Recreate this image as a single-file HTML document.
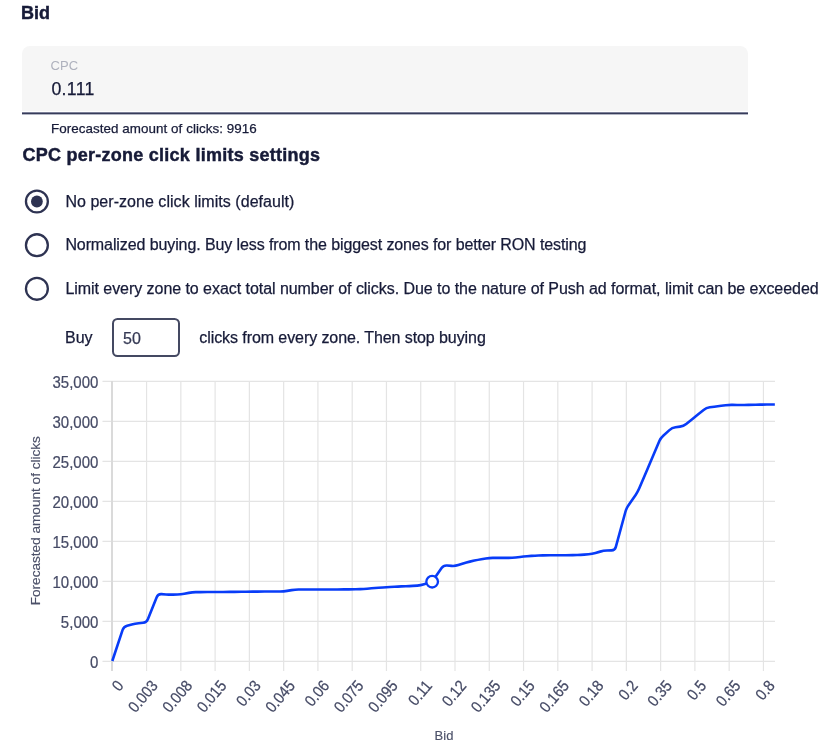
<!DOCTYPE html>
<html><head><meta charset="utf-8">
<style>
*{margin:0;padding:0;box-sizing:border-box}
html,body{width:840px;height:745px;background:#fff;overflow:hidden}
body{position:relative;font-family:"Liberation Sans",sans-serif;color:#171b38}
.g{position:absolute;left:0;top:0;width:840px;height:745px;will-change:transform}
.t{position:absolute;white-space:nowrap;line-height:1;-webkit-text-stroke:0.25px currentColor}
.h{font-weight:700;color:#171b38;-webkit-text-stroke:0.45px currentColor}
.inbox{position:absolute;left:22px;top:46px;width:725.5px;height:65px;background:#f6f6f6;border-radius:8px 8px 0 0}
.inline{position:absolute;left:22px;top:112px;width:725.5px;height:3px;background:linear-gradient(#7d8199 0,#7d8199 1px,#373c5a 1px,#373c5a 2px,#b3b6c4 2px,#b3b6c4 3px)}
.radio{position:absolute;left:24.7px;width:24px;height:24px;border:2.4px solid #3d4057;border-radius:50%}
.dot{position:absolute;left:3.6px;top:3.6px;width:12px;height:12px;background:#3d4057;border-radius:50%}
.nbox{position:absolute;left:112px;top:318px;width:68px;height:39px;border:2px solid #444962;border-radius:5.5px}
svg{position:absolute;left:0;top:0}
</style></head><body>
<div class="g">
<div class="t h" style="left:21px;top:3.6px;font-size:18px">Bid</div>
<div class="inbox"></div><div class="inline"></div>
<div class="t" style="left:50.6px;top:59.1px;font-size:13px;color:#aeb1bd;-webkit-text-stroke:0">CPC</div>
<div class="t" style="left:51.4px;top:81.1px;font-size:17.7px;letter-spacing:0.35px;color:#171b38">0.111</div>
<div class="t" style="left:50.9px;top:122.1px;font-size:13.4px;letter-spacing:0.06px;color:#171b38">Forecasted amount of clicks: 9916</div>
<div class="t h" style="left:22.4px;top:145.7px;font-size:18px;letter-spacing:0.26px">CPC per-zone click limits settings</div>

<svg width="60" height="320" style="position:absolute;left:0;top:0"><g fill="none" stroke="#2e3352" stroke-width="2.3"><circle cx="36.9" cy="201.5" r="10.95"/><circle cx="36.9" cy="245.2" r="10.95"/><circle cx="36.9" cy="288.8" r="10.95"/></g><circle cx="36.9" cy="201.5" r="5.9" fill="#2e3352"/></svg>
<div class="t" style="left:65.4px;top:193.8px;font-size:16px;letter-spacing:0.04px">No per-zone click limits (default)</div>
<div class="t" style="left:65.4px;top:237.3px;font-size:16px;letter-spacing:-0.10px">Normalized buying. Buy less from the biggest zones for better RON testing</div>
<div class="t" style="left:65.4px;top:281.1px;font-size:16px;letter-spacing:-0.05px">Limit every zone to exact total number of clicks. Due to the nature of Push ad format, limit can be exceeded</div>

<div class="t" style="left:65px;top:330.2px;font-size:16px">Buy</div>
<div class="nbox"></div>
<div class="t" style="left:123px;top:331.2px;font-size:16px;color:#363a55">50</div>
<div class="t" style="left:199.3px;top:329.5px;font-size:16px;letter-spacing:-0.08px">clicks from every zone. Then stop buying</div>

</div>
<svg width="840" height="745" viewBox="0 0 840 745">
<g stroke="#e4e4e4" stroke-width="1.2"><line x1="102.5" y1="381.3" x2="775" y2="381.3"/><line x1="102.5" y1="421.3" x2="775" y2="421.3"/><line x1="102.5" y1="461.3" x2="775" y2="461.3"/><line x1="102.5" y1="501.3" x2="775" y2="501.3"/><line x1="102.5" y1="541.3" x2="775" y2="541.3"/><line x1="102.5" y1="581.3" x2="775" y2="581.3"/><line x1="102.5" y1="621.3" x2="775" y2="621.3"/><line x1="102.5" y1="661.3" x2="775" y2="661.3"/><line x1="112.30" y1="381" x2="112.30" y2="671"/><line x1="146.57" y1="381" x2="146.57" y2="671"/><line x1="180.84" y1="381" x2="180.84" y2="671"/><line x1="215.11" y1="381" x2="215.11" y2="671"/><line x1="249.38" y1="381" x2="249.38" y2="671"/><line x1="283.65" y1="381" x2="283.65" y2="671"/><line x1="317.92" y1="381" x2="317.92" y2="671"/><line x1="352.19" y1="381" x2="352.19" y2="671"/><line x1="386.46" y1="381" x2="386.46" y2="671"/><line x1="420.73" y1="381" x2="420.73" y2="671"/><line x1="455.00" y1="381" x2="455.00" y2="671"/><line x1="489.27" y1="381" x2="489.27" y2="671"/><line x1="523.54" y1="381" x2="523.54" y2="671"/><line x1="557.81" y1="381" x2="557.81" y2="671"/><line x1="592.08" y1="381" x2="592.08" y2="671"/><line x1="626.35" y1="381" x2="626.35" y2="671"/><line x1="660.62" y1="381" x2="660.62" y2="671"/><line x1="694.89" y1="381" x2="694.89" y2="671"/><line x1="729.16" y1="381" x2="729.16" y2="671"/><line x1="763.43" y1="381" x2="763.43" y2="671"/></g>
<line x1="112" y1="381" x2="112" y2="671" stroke="#dadada" stroke-width="2"/>
<g font-family="Liberation Sans" font-size="15" fill="#454a65" stroke="#454a65" stroke-width="0.2"><text transform="translate(98.4,388.2) scale(1,1.08)" text-anchor="end">35,000</text><text transform="translate(98.4,428.2) scale(1,1.08)" text-anchor="end">30,000</text><text transform="translate(98.4,468.2) scale(1,1.08)" text-anchor="end">25,000</text><text transform="translate(98.4,508.2) scale(1,1.08)" text-anchor="end">20,000</text><text transform="translate(98.4,548.2) scale(1,1.08)" text-anchor="end">15,000</text><text transform="translate(98.4,588.2) scale(1,1.08)" text-anchor="end">10,000</text><text transform="translate(98.4,628.2) scale(1,1.08)" text-anchor="end">5,000</text><text transform="translate(98.4,668.2) scale(1,1.08)" text-anchor="end">0</text></g>
<g font-family="Liberation Sans" font-size="16" fill="#454a65" stroke="#454a65" stroke-width="0.25"><text transform="translate(124.50,686.00) rotate(-50) scale(0.9,1)" text-anchor="end">0</text><text transform="translate(158.77,686.00) rotate(-50) scale(0.9,1)" text-anchor="end">0.003</text><text transform="translate(193.04,686.00) rotate(-50) scale(0.9,1)" text-anchor="end">0.008</text><text transform="translate(227.31,686.00) rotate(-50) scale(0.9,1)" text-anchor="end">0.015</text><text transform="translate(261.58,686.00) rotate(-50) scale(0.9,1)" text-anchor="end">0.03</text><text transform="translate(295.85,686.00) rotate(-50) scale(0.9,1)" text-anchor="end">0.045</text><text transform="translate(330.12,686.00) rotate(-50) scale(0.9,1)" text-anchor="end">0.06</text><text transform="translate(364.39,686.00) rotate(-50) scale(0.9,1)" text-anchor="end">0.075</text><text transform="translate(398.66,686.00) rotate(-50) scale(0.9,1)" text-anchor="end">0.095</text><text transform="translate(432.93,686.00) rotate(-50) scale(0.9,1)" text-anchor="end">0.11</text><text transform="translate(467.20,686.00) rotate(-50) scale(0.9,1)" text-anchor="end">0.12</text><text transform="translate(501.47,686.00) rotate(-50) scale(0.9,1)" text-anchor="end">0.135</text><text transform="translate(535.74,686.00) rotate(-50) scale(0.9,1)" text-anchor="end">0.15</text><text transform="translate(570.01,686.00) rotate(-50) scale(0.9,1)" text-anchor="end">0.165</text><text transform="translate(604.28,686.00) rotate(-50) scale(0.9,1)" text-anchor="end">0.18</text><text transform="translate(638.55,686.00) rotate(-50) scale(0.9,1)" text-anchor="end">0.2</text><text transform="translate(672.82,686.00) rotate(-50) scale(0.9,1)" text-anchor="end">0.35</text><text transform="translate(707.09,686.00) rotate(-50) scale(0.9,1)" text-anchor="end">0.5</text><text transform="translate(741.36,686.00) rotate(-50) scale(0.9,1)" text-anchor="end">0.65</text><text transform="translate(775.63,686.00) rotate(-50) scale(0.9,1)" text-anchor="end">0.8</text></g>
<text transform="translate(40.1,520.7) rotate(-90)" text-anchor="middle" font-family="Liberation Sans" font-size="13.6" fill="#4c5169" stroke="#4c5169" stroke-width="0.15">Forecasted amount of clicks</text>
<text x="444" y="739.5" text-anchor="middle" font-family="Liberation Sans" font-size="13" fill="#4c5169" stroke="#4c5169" stroke-width="0.15">Bid</text>
<path d="M112.30,661.00L122.62,629.92Q123.72,626.60 127.12,625.74L131.75,624.56Q135.15,623.70 138.62,623.30L143.09,622.80Q146.57,622.40 147.87,619.15L156.69,597.15Q157.99,593.90 161.48,594.14L165.93,594.46Q169.42,594.70 172.92,594.64L177.34,594.56Q180.84,594.50 184.27,593.81L188.83,592.89Q192.26,592.20 195.76,592.17L200.19,592.13Q203.69,592.10 207.19,592.07L211.61,592.03Q215.11,592.00 218.61,591.97L223.03,591.93Q226.53,591.90 230.03,591.87L234.46,591.83Q237.96,591.80 241.46,591.77L245.88,591.73Q249.38,591.70 252.88,591.67L257.30,591.63Q260.80,591.60 264.30,591.57L268.73,591.53Q272.23,591.50 275.73,591.47L280.15,591.43Q283.65,591.40 287.11,590.86L291.62,590.14Q295.07,589.60 298.57,589.57L303.00,589.53Q306.50,589.50 310.00,589.50L314.42,589.50Q317.92,589.50 321.42,589.50L325.84,589.50Q329.34,589.50 332.84,589.47L337.27,589.43Q340.77,589.40 344.27,589.37L348.69,589.33Q352.19,589.30 355.69,589.21L360.11,589.09Q363.61,589.00 367.10,588.69L371.55,588.31Q375.04,588.00 378.53,587.76L382.97,587.44Q386.46,587.20 389.95,586.99L394.39,586.71Q397.88,586.50 401.38,586.38L405.81,586.22Q409.31,586.10 412.80,585.89L417.24,585.61Q420.73,585.40 424.06,584.32L428.82,582.78Q432.15,581.70 434.15,578.82L441.58,568.08Q443.58,565.20 447.06,565.51L451.51,565.89Q455.00,566.20 458.32,565.10L463.10,563.50Q466.42,562.40 469.84,561.62L474.43,560.58Q477.85,559.80 481.30,559.23L485.82,558.47Q489.27,557.90 492.77,557.90L497.19,557.90Q500.69,557.90 504.19,557.90L508.62,557.90Q512.12,557.90 515.59,557.50L520.06,557.00Q523.54,556.60 527.02,556.26L531.48,555.84Q534.96,555.50 538.46,555.44L542.89,555.36Q546.39,555.30 549.89,555.27L554.31,555.23Q557.81,555.20 561.31,555.20L565.73,555.20Q569.23,555.20 572.73,555.14L577.16,555.06Q580.66,555.00 584.14,554.63L588.60,554.17Q592.08,553.80 595.46,552.88L600.13,551.62Q603.50,550.70 607.00,550.55L611.43,550.35Q614.93,550.20 615.85,546.82L625.43,511.78Q626.35,508.40 628.33,505.52L635.79,494.68Q637.77,491.80 639.15,488.58L647.82,468.22Q649.20,465.00 650.56,461.78L659.26,441.22Q660.62,438.00 663.23,435.67L669.43,430.13Q672.04,427.80 675.51,427.28L680.00,426.62Q683.47,426.10 686.20,423.92L692.15,419.18Q694.89,417.00 697.62,414.80L703.59,410.00Q706.31,407.80 709.78,407.31L714.27,406.69Q717.74,406.20 721.21,405.77L725.69,405.23Q729.16,404.80 732.66,404.89L737.08,405.01Q740.58,405.10 744.08,405.01L748.51,404.89Q752.01,404.80 755.51,404.74L759.93,404.66Q763.43,404.60 766.93,404.57L774.85,404.50" fill="none" stroke="#083cf8" stroke-width="2.6" stroke-linejoin="round" stroke-linecap="butt"/>
<circle cx="432.15" cy="581.70" r="5.8" fill="#fff" stroke="#083cf8" stroke-width="2.3"/>
</svg>
</body></html>
